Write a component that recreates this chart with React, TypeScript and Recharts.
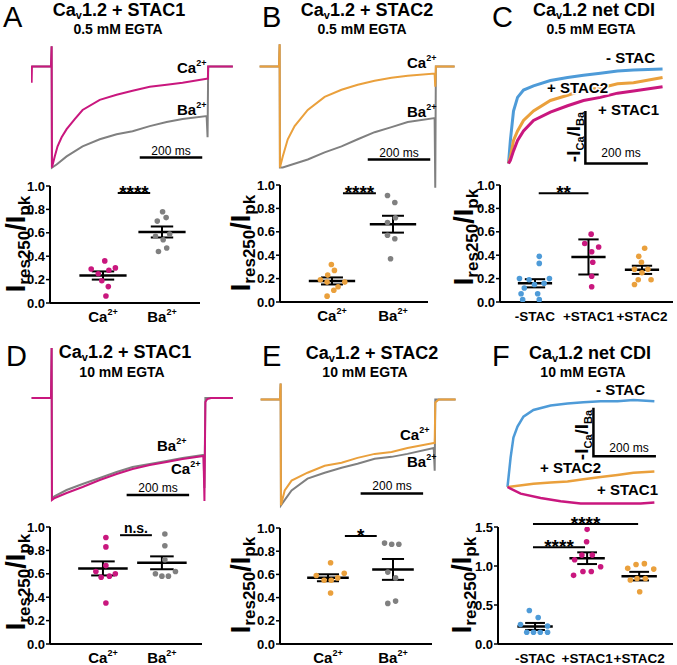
import React from "react";
import { LineChart, Line, XAxis, YAxis, ScatterChart, Scatter, ReferenceLine } from "recharts";

const FONT = "'Liberation Sans', Arial, Helvetica, sans-serif";
const MAGENTA = "#c9177e";
const ORANGE = "#eaa03c";
const GRAY = "#808080";
const BLUE = "#4e9bd8";
const SCALE_MS = 200;

type Pt = [number, number];

// ---- current traces: [time (ms), normalised current] ----
const A_BA: Pt[] = [[-64, 0], [-2, 0], [0, 0.2], [1, -1], [16, -0.97], [48, -0.89], [99, -0.79], [154, -0.72], [208, -0.67], [259, -0.64], [314, -0.59], [368, -0.55], [419, -0.52], [496, -0.49], [499, -0.7], [501, 0], [580, 0]];
const A_CA: Pt[] = [[-64, -0.16], [-63, 0], [-2, 0], [0, 0.2], [1, -1], [10, -0.89], [19, -0.79], [32, -0.7], [48, -0.62], [74, -0.52], [99, -0.43], [154, -0.33], [208, -0.28], [259, -0.24], [314, -0.2], [368, -0.18], [419, -0.16], [496, -0.12], [500, -0.12], [501, 0], [580, 0]];

const B_BA: Pt[] = [[-64, 0], [-2, 0], [0, 0.22], [1, -1], [10, -1], [90, -0.92], [144, -0.85], [198, -0.79], [250, -0.72], [304, -0.65], [358, -0.6], [410, -0.55], [496, -0.51], [498, -1.2], [500, 0], [560, 0]];
const B_CA: Pt[] = [[-64, 0], [-2, 0], [0, 0.22], [1, -1], [10, -0.89], [26, -0.72], [48, -0.59], [90, -0.43], [144, -0.3], [198, -0.23], [250, -0.18], [304, -0.14], [358, -0.11], [410, -0.09], [496, -0.07], [498, -0.2], [500, 0], [560, 0]];

const C_NOSTAC: Pt[] = [[0, -1], [6, -0.78], [16, -0.5], [29, -0.37], [48, -0.3], [80, -0.26], [134, -0.21], [189, -0.18], [240, -0.16], [294, -0.14], [349, -0.12], [400, -0.11], [493, -0.1]];
const C_STAC2: Pt[] = [[0, -1], [6, -0.94], [16, -0.78], [29, -0.69], [48, -0.59], [80, -0.5], [134, -0.4], [189, -0.35], [240, -0.3], [294, -0.28], [349, -0.24], [400, -0.23], [493, -0.18]];
const C_STAC1: Pt[] = [[0, -1], [6, -0.97], [16, -0.88], [29, -0.78], [48, -0.69], [80, -0.59], [134, -0.51], [189, -0.45], [240, -0.4], [294, -0.37], [349, -0.33], [400, -0.31], [493, -0.27]];

const D_BA: Pt[] = [[-64, 0], [-2, 0], [0, 0.5], [1, -1], [10, -0.98], [48, -0.92], [99, -0.86], [154, -0.8], [208, -0.74], [259, -0.69], [314, -0.66], [368, -0.63], [419, -0.6], [486, -0.57], [489, -0.9], [492, 0], [580, 0]];
const D_CA: Pt[] = [[-64, 0], [-2, 0], [0, 0.5], [1, -1.02], [10, -1], [48, -0.95], [99, -0.89], [154, -0.82], [208, -0.76], [259, -0.71], [314, -0.67], [368, -0.64], [419, -0.61], [486, -0.58], [489, -1.03], [492, -0.04], [498, -0.01], [510, 0], [580, 0]];

const E_BA: Pt[] = [[-64, 0], [-2, 0], [0, 0.16], [1, -1.07], [19, -0.99], [35, -0.92], [86, -0.8], [141, -0.74], [195, -0.69], [246, -0.65], [301, -0.6], [355, -0.58], [406, -0.55], [490, -0.49], [493, -0.72], [495, 0], [560, 0]];
const E_CA: Pt[] = [[-64, 0], [-2, 0], [0, 0.16], [1, -1.07], [13, -0.92], [35, -0.82], [86, -0.74], [141, -0.67], [195, -0.64], [246, -0.59], [301, -0.55], [355, -0.53], [406, -0.49], [490, -0.44], [493, -0.44], [495, -0.03], [506, 0], [560, 0]];

const F_NOSTAC: Pt[] = [[0, -1], [10, -0.73], [19, -0.55], [32, -0.45], [51, -0.36], [83, -0.3], [138, -0.26], [192, -0.24], [243, -0.23], [298, -0.22], [352, -0.22], [403, -0.21], [470, -0.22]];
const F_STAC2: Pt[] = [[0, -1], [83, -0.97], [138, -0.96], [192, -0.95], [243, -0.93], [298, -0.91], [352, -0.89], [403, -0.87], [470, -0.86]];
const F_STAC1: Pt[] = [[0, -1], [42, -1.06], [106, -1.1], [170, -1.13], [234, -1.15], [298, -1.15], [362, -1.15], [426, -1.15], [470, -1.14]];

// ---- Ires250/Ipk scatter values ----
const ION_LABELS = ["Ca^2+", "Ba^2+"];
const STAC_LABELS = ["-STAC", "+STAC1", "+STAC2"];

const A_CA_VALS = [0.36, 0.29, 0.3, 0.28, 0.25, 0.19, 0.14, 0.06];
const A_BA_VALS = [0.78, 0.7, 0.73, 0.57, 0.59, 0.54, 0.44, 0.47];
const A_JITTER = [[0.03, -0.2, 0.21, 0.1, -0.08, -0.02, 0.09, 0.05], [0.01, -0.08, 0.07, -0.11, 0.13, 0.02, -0.06, 0.08]];
const A_MEAN = [0.235, 0.607];
const A_SEM = [0.035, 0.047];

const B_CA_VALS = [0.32, 0.27, 0.23, 0.19, 0.17, 0.17, 0.13, 0.1, 0.05];
const B_BA_VALS = [0.91, 0.85, 0.72, 0.68, 0.57, 0.54, 0.37];
const B_JITTER = [[-0.01, 0.04, -0.07, -0.19, -0.08, 0.21, 0.1, 0.03, -0.08], [-0.09, 0.03, 0.04, -0.09, -0.09, 0.03, -0.04]];
const B_MEAN = [0.18, 0.665];
const B_SEM = [0.03, 0.072];

const C_NOSTAC_VALS = [0.39, 0.33, 0.2, 0.19, 0.2, 0.15, 0.16, 0.12, 0.07, 0.07, 0.02, 0.02];
const C_STAC1_VALS = [0.58, 0.5, 0.47, 0.43, 0.34, 0.22, 0.13];
const C_STAC2_VALS = [0.46, 0.39, 0.34, 0.28, 0.28, 0.25, 0.19, 0.15, 0.19];
const C_JITTER = [
  [0.08, 0.08, -0.29, -0.11, 0.27, -0.01, 0.17, -0.2, -0.26, 0.05, -0.23, 0.08],
  [0.05, -0.07, 0.19, 0.06, 0.08, 0.06, 0.06],
  [0.05, -0.06, -0.01, -0.14, 0.11, 0, -0.07, -0.14, 0.17],
];
const C_MEAN = [0.16, 0.385, 0.275];
const C_SEM = [0.035, 0.15, 0.035];

const D_CA_VALS = [0.91, 0.83, 0.67, 0.62, 0.6, 0.58, 0.57, 0.35];
const D_BA_VALS = [0.94, 0.84, 0.72, 0.6, 0.62, 0.58, 0.58];
const D_JITTER = [[0.05, 0.05, 0.05, -0.12, 0.21, 0.11, -0.03, 0.05], [0.05, 0.05, 0.05, -0.11, 0.23, 0, 0.11]];
const D_MEAN = [0.646, 0.694];
const D_SEM = [0.06, 0.055];

const E_CA_VALS = [0.7, 0.59, 0.61, 0.55, 0.55, 0.57, 0.44];
const E_BA_VALS = [0.87, 0.86, 0.86, 0.62, 0.57, 0.37, 0.35];
const E_JITTER = [[0.04, -0.18, 0.25, -0.06, 0.05, 0.15, 0.04], [-0.13, -0.02, 0.09, -0.08, 0.04, 0.04, -0.08]];
const E_MEAN = [0.571, 0.643];
const E_SEM = [0.03, 0.09];

const F_NOSTAC_VALS = [0.43, 0.34, 0.25, 0.23, 0.15, 0.15, 0.15, 0.15];
const F_STAC1_VALS = [1.47, 1.31, 1.14, 1.14, 1.08, 0.99, 0.93, 0.93, 0.88];
const F_STAC2_VALS = [1.02, 1.03, 0.97, 0.96, 0.84, 0.84, 0.82, 0.67];
const F_JITTER = [
  [-0.11, 0.06, -0.28, 0.24, -0.16, -0.03, 0.1, 0.24],
  [0, -0.01, -0.1, 0.1, -0.24, 0.26, -0.08, 0.08, -0.26],
  [-0.06, 0.1, -0.22, 0.28, -0.04, 0.12, -0.17, 0.01],
];
const F_MEAN = [0.225, 1.1, 0.87];
const F_SEM = [0.045, 0.075, 0.055];

type Sig = { x1: number; x2: number; y: number; text: string };
const A_SIG: Sig[] = [{ x1: 1.25, x2: 1.8, y: 0.94, text: "****" }];
const B_SIG: Sig[] = [{ x1: 1.18, x2: 1.72, y: 0.93, text: "****" }];
const C_SIG: Sig[] = [{ x1: 1.07, x2: 2.0, y: 0.93, text: "**" }];
const D_SIG: Sig[] = [{ x1: 1.29, x2: 1.83, y: 0.93, text: "n.s." }];
const E_SIG: Sig[] = [{ x1: 1.26, x2: 1.75, y: 0.93, text: "*" }];
const F_SIG: Sig[] = [
  { x1: 0.96, x2: 2.98, y: 1.54, text: "****" },
  { x1: 0.96, x2: 1.96, y: 1.24, text: "****" },
];

interface TraceProps {
  x0: number;
  y0: number;
  pxPerUnit: number;
  xDomain: [number, number];
  yDomain: [number, number];
  traces: { pts: Pt[]; color: string; width?: number }[];
  bar: { t: number; v: number; vTop?: number };
}

const MS_PER_PX = 3.2;

function TraceBox({ x0, y0, pxPerUnit, xDomain, yDomain, traces, bar }: TraceProps) {
  const left = x0 + xDomain[0] / MS_PER_PX;
  const width = (xDomain[1] - xDomain[0]) / MS_PER_PX;
  const top = y0 - yDomain[1] * pxPerUnit;
  const height = (yDomain[1] - yDomain[0]) * pxPerUnit;
  const barPts =
    bar.vTop !== undefined
      ? [{ t: bar.t, v: bar.vTop }, { t: bar.t, v: bar.v }, { t: bar.t + SCALE_MS, v: bar.v }]
      : [{ t: bar.t, v: bar.v }, { t: bar.t + SCALE_MS, v: bar.v }];
  return (
    <div style={{ position: "absolute", left, top }}>
      <LineChart width={width} height={height} margin={{ top: 0, right: 0, bottom: 0, left: 0 }}>
        <XAxis type="number" dataKey="t" domain={xDomain} hide allowDataOverflow />
        <YAxis type="number" domain={yDomain} hide allowDataOverflow />
        {traces.map((tr, i) => (
          <Line
            key={i}
            data={tr.pts.map(([t, v]) => ({ t, v }))}
            dataKey="v"
            stroke={tr.color}
            strokeWidth={tr.width ?? 2}
            dot={false}
            type="linear"
            isAnimationActive={false}
          />
        ))}
        <Line data={barPts} dataKey="v" stroke="#000" strokeWidth={2.5} dot={false} type="linear" isAnimationActive={false} />
      </LineChart>
    </div>
  );
}

interface DotProps {
  left: number;
  right: number;
  top: number;
  bottom: number;
  xDomain: [number, number];
  yMax: number;
  yTicks: number[];
  labels: string[];
  labelSize: number;
  groups: number[][];
  jitter: number[][];
  colors: string[];
  means: number[];
  sems: number[];
  meanHalf: number;
  capHalf: number;
  sig: Sig[];
}

function DotPlot(p: DotProps) {
  const YW = 45;
  const MT = 35;
  const XH = 25;
  const MR = 4;
  const w = YW + (p.right - p.left) + MR;
  const h = MT + (p.bottom - p.top) + XH;
  const xTick = (t: any) => {
    const lab = p.labels[Math.round(t.payload.value) - 1] ?? "";
    const [base, sup] = lab.split("^");
    return (
      <text x={t.x} y={t.y + 17} textAnchor="middle" fontFamily={FONT} fontWeight={700} fontSize={p.labelSize} fill="#000">
        {base}
        {sup && (
          <tspan fontSize={9} dy={-7}>
            {sup}
          </tspan>
        )}
      </text>
    );
  };
  const refs: React.ReactNode[] = [];
  p.means.forEach((m, g) => {
    const c = g + 1;
    const s = p.sems[g];
    const seg = (k: string, a: [number, number], b: [number, number], sw: number) =>
      refs.push(
        <ReferenceLine
          key={k}
          segment={[{ x: a[0], y: a[1] }, { x: b[0], y: b[1] }]}
          stroke="#000"
          strokeWidth={sw}
          ifOverflow="visible"
        />
      );
    seg(`m${g}`, [c - p.meanHalf, m], [c + p.meanHalf, m], 2.5);
    seg(`v${g}`, [c, m - s], [c, m + s], 2);
    seg(`t${g}`, [c - p.capHalf, m + s], [c + p.capHalf, m + s], 2);
    seg(`b${g}`, [c - p.capHalf, m - s], [c + p.capHalf, m - s], 2);
  });
  p.sig.forEach((s, i) => {
    const star = s.text.includes("*");
    refs.push(
      <ReferenceLine
        key={`s${i}`}
        segment={[{ x: s.x1, y: s.y }, { x: s.x2, y: s.y }]}
        stroke="#000"
        strokeWidth={2}
        ifOverflow="visible"
        label={(lp: any) => {
          const vb = lp.viewBox || {};
          return (
            <text
              x={(vb.x ?? 0) + (vb.width ?? 0) / 2}
              y={(vb.y ?? 0) + (star ? 6 : -2)}
              textAnchor="middle"
              fontFamily={FONT}
              fontWeight={700}
              fontSize={star ? 19 : 14}
              fill="#000"
            >
              {s.text}
            </text>
          );
        }}
      />
    );
  });
  return (
    <div style={{ position: "absolute", left: p.left - YW, top: p.top - MT }}>
      <ScatterChart width={w} height={h} margin={{ top: MT, right: MR, bottom: 0, left: 0 }}>
        <XAxis
          type="number"
          dataKey="x"
          domain={p.xDomain}
          ticks={p.labels.map((_, i) => i + 1)}
          interval={0}
          tick={xTick}
          tickLine={false}
          tickSize={0}
          height={XH}
          axisLine={{ stroke: "#000", strokeWidth: 2 }}
          allowDataOverflow
        />
        <YAxis
          type="number"
          dataKey="y"
          domain={[0, p.yMax]}
          ticks={p.yTicks}
          interval={0}
          width={YW}
          tickFormatter={(v: number) => v.toFixed(1)}
          tick={{ fill: "#000", fontSize: 13, fontWeight: 700, fontFamily: FONT }}
          tickLine={{ stroke: "#000", strokeWidth: 1.5 }}
          tickSize={4}
          tickMargin={1}
          axisLine={{ stroke: "#000", strokeWidth: 2 }}
          allowDataOverflow
        />
        {p.groups.map((vals, g) => (
          <Scatter
            key={g}
            data={vals.map((y, i) => ({ x: g + 1 + p.jitter[g][i], y }))}
            fill={p.colors[g]}
            isAnimationActive={false}
            shape={(s: any) => <circle cx={s.cx} cy={s.cy} r={2.8} fill={p.colors[g]} />}
          />
        ))}
        {refs}
      </ScatterChart>
    </div>
  );
}

function Title({ x, y, name, sub, sx, sy }: { x: number; y: number; name: string; sub: string; sx: number; sy: number }) {
  return (
    <>
      <text x={x} y={y} textAnchor="middle" fontSize={18} fontWeight={700}>
        Ca
        <tspan fontSize={11} dy={3}>
          v
        </tspan>
        <tspan dy={-3}>{name}</tspan>
      </text>
      <text x={sx} y={sy} textAnchor="middle" fontSize={14} fontWeight={700}>
        {sub}
      </text>
    </>
  );
}

function Ion({ x, y, ion }: { x: number; y: number; ion: string }) {
  return (
    <text x={x} y={y} fontSize={15} fontWeight={700}>
      {ion}
      <tspan fontSize={9} dy={-7}>
        2+
      </tspan>
    </text>
  );
}

function RatioLabel({ x, y }: { x: number; y: number }) {
  return (
    <text transform={`translate(${x},${y}) rotate(-90)`} textAnchor="middle" fontWeight={700}>
      <tspan fontSize={27}>I</tspan>
      <tspan fontSize={17} dy={5}>
        res250
      </tspan>
      <tspan fontSize={27} dy={-5}>
        /
      </tspan>
      <tspan fontSize={27}>I</tspan>
      <tspan fontSize={17} dy={5}>
        pk
      </tspan>
    </text>
  );
}

function CdiLabel({ x, y }: { x: number; y: number }) {
  return (
    <text transform={`translate(${x},${y}) rotate(-90)`} textAnchor="middle" fontWeight={700}>
      <tspan fontSize={19}>-I</tspan>
      <tspan fontSize={11} dy={4}>
        Ca
      </tspan>
      <tspan fontSize={19} dy={-4}>
        /I
      </tspan>
      <tspan fontSize={11} dy={4}>
        Ba
      </tspan>
    </text>
  );
}

const halo = { stroke: "#fff", strokeWidth: 3, paintOrder: "stroke" as const };

export default function App() {
  const ionDomain: [number, number] = [-66, 582];
  const traceY: [number, number] = [-1.25, 0.55];
  const t01 = [0, 0.2, 0.4, 0.6, 0.8, 1.0];
  return (
    <div style={{ position: "absolute", left: 0, top: 0, width: 677, height: 665, background: "#fff", fontFamily: FONT }}>
      <TraceBox x0={52} y0={67} pxPerUnit={101} xDomain={ionDomain} yDomain={traceY}
        traces={[{ pts: A_BA, color: GRAY }, { pts: A_CA, color: MAGENTA }]} bar={{ t: 282, v: -0.9 }} />
      <TraceBox x0={280} y0={67} pxPerUnit={101} xDomain={[-66, 562]} yDomain={traceY}
        traces={[{ pts: B_BA, color: GRAY }, { pts: B_CA, color: ORANGE }]} bar={{ t: 282, v: -0.92 }} />
      <TraceBox x0={508} y0={58} pxPerUnit={105} xDomain={[-8, 500]} yDomain={[-1.1, 0.1]}
        traces={[{ pts: C_NOSTAC, color: BLUE, width: 3 }, { pts: C_STAC2, color: ORANGE, width: 3 }, { pts: C_STAC1, color: MAGENTA, width: 3 }]}
        bar={{ t: 246, v: -1, vTop: -0.5 }} />
      <TraceBox x0={52} y0={398} pxPerUnit={100} xDomain={ionDomain} yDomain={traceY}
        traces={[{ pts: D_BA, color: GRAY }, { pts: D_CA, color: MAGENTA }]} bar={{ t: 240, v: -0.97 }} />
      <TraceBox x0={281} y0={399} pxPerUnit={99} xDomain={[-66, 562]} yDomain={traceY}
        traces={[{ pts: E_BA, color: GRAY }, { pts: E_CA, color: ORANGE }]} bar={{ t: 256, v: -0.95 }} />
      <TraceBox x0={507} y0={377} pxPerUnit={110} xDomain={[-8, 480]} yDomain={[-1.25, 0.1]}
        traces={[{ pts: F_NOSTAC, color: BLUE, width: 2.5 }, { pts: F_STAC2, color: ORANGE, width: 2.5 }, { pts: F_STAC1, color: MAGENTA, width: 2.5 }]}
        bar={{ t: 275, v: -0.72, vTop: -0.28 }} />

      <DotPlot left={50} right={200} top={186} bottom={303} xDomain={[0.102, 2.644]} yMax={1} yTicks={t01}
        labels={ION_LABELS} labelSize={15} groups={[A_CA_VALS, A_BA_VALS]} jitter={A_JITTER} colors={[MAGENTA, GRAY]}
        means={A_MEAN} sems={A_SEM} meanHalf={0.4} capHalf={0.19} sig={A_SIG} />
      <DotPlot left={280} right={428} top={185} bottom={302} xDomain={[0.148, 2.574]} yMax={1} yTicks={t01}
        labels={ION_LABELS} labelSize={15} groups={[B_CA_VALS, B_BA_VALS]} jitter={B_JITTER} colors={[ORANGE, GRAY]}
        means={B_MEAN} sems={B_SEM} meanHalf={0.38} capHalf={0.18} sig={B_SIG} />
      <DotPlot left={500} right={673} top={185} bottom={302} xDomain={[0.346, 3.58]} yMax={1} yTicks={t01}
        labels={STAC_LABELS} labelSize={13.5} groups={[C_NOSTAC_VALS, C_STAC1_VALS, C_STAC2_VALS]} jitter={C_JITTER} colors={[BLUE, MAGENTA, ORANGE]}
        means={C_MEAN} sems={C_SEM} meanHalf={0.32} capHalf={0.19} sig={C_SIG} />
      <DotPlot left={50} right={202} top={527} bottom={644} xDomain={[0.102, 2.68]} yMax={1} yTicks={t01}
        labels={ION_LABELS} labelSize={15} groups={[D_CA_VALS, D_BA_VALS]} jitter={D_JITTER} colors={[MAGENTA, GRAY]}
        means={D_MEAN} sems={D_SEM} meanHalf={0.42} capHalf={0.2} sig={D_SIG} />
      <DotPlot left={280} right={432} top={528} bottom={644} xDomain={[0.262, 2.6]} yMax={1} yTicks={t01}
        labels={ION_LABELS} labelSize={15} groups={[E_CA_VALS, E_BA_VALS]} jitter={E_JITTER} colors={[ORANGE, GRAY]}
        means={E_MEAN} sems={E_SEM} meanHalf={0.32} capHalf={0.17} sig={E_SIG} />
      <DotPlot left={498} right={673} top={527} bottom={644} xDomain={[0.288, 3.65]} yMax={1.5} yTicks={[0, 0.5, 1.0, 1.5]}
        labels={STAC_LABELS} labelSize={13.5} groups={[F_NOSTAC_VALS, F_STAC1_VALS, F_STAC2_VALS]} jitter={F_JITTER} colors={[BLUE, MAGENTA, ORANGE]}
        means={F_MEAN} sems={F_SEM} meanHalf={0.34} capHalf={0.19} sig={F_SIG} />

      <svg width={677} height={665} style={{ position: "absolute", left: 0, top: 0, pointerEvents: "none" }} fontFamily={FONT} fill="#000">
        <text x={3} y={27} fontSize={29}>A</text>
        <text x={262} y={27} fontSize={29}>B</text>
        <text x={492} y={27} fontSize={29}>C</text>
        <text x={6} y={366} fontSize={29}>D</text>
        <text x={262} y={366} fontSize={29}>E</text>
        <text x={492} y={366} fontSize={29}>F</text>

        <Title x={119} y={16} name="1.2 + STAC1" sub="0.5 mM EGTA" sx={118} sy={34} />
        <Title x={367} y={16} name="1.2 + STAC2" sub="0.5 mM EGTA" sx={362} sy={34} />
        <Title x={594} y={16} name="1.2 net CDI" sub="0.5 mM EGTA" sx={591} sy={34} />
        <Title x={125} y={358} name="1.2 + STAC1" sub="10 mM EGTA" sx={122} sy={377} />
        <Title x={372} y={359} name="1.2 + STAC2" sub="10 mM EGTA" sx={365} sy={377} />
        <Title x={590} y={359} name="1.2 net CDI" sub="10 mM EGTA" sx={583} sy={377} />

        <Ion x={177} y={73} ion="Ca" />
        <Ion x={177} y={115} ion="Ba" />
        <Ion x={407} y={68} ion="Ca" />
        <Ion x={407} y={117} ion="Ba" />
        <Ion x={157} y={451} ion="Ba" />
        <Ion x={171} y={474} ion="Ca" />
        <Ion x={400} y={440} ion="Ca" />
        <Ion x={407} y={467} ion="Ba" />

        <g fontSize={15} fontWeight={700}>
          <text x={655} y={63} textAnchor="end">- STAC</text>
          <text x={547} y={93} {...halo}>+ STAC2</text>
          <text x={598} y={115} {...halo}>+ STAC1</text>
          <text x={645} y={395} textAnchor="end">- STAC</text>
          <text x={540} y={473} {...halo}>+ STAC2</text>
          <text x={597} y={495}>+ STAC1</text>
        </g>

        <g fontSize={12} textAnchor="middle">
          <text x={171} y={155}>200 ms</text>
          <text x={399} y={157}>200 ms</text>
          <text x={621} y={157}>200 ms</text>
          <text x={158} y={492}>200 ms</text>
          <text x={392} y={490}>200 ms</text>
          <text x={629} y={452}>200 ms</text>
        </g>

        <CdiLabel x={580} y={137} />
        <CdiLabel x={588} y={435} />

        <RatioLabel x={25} y={244} />
        <RatioLabel x={250} y={243} />
        <RatioLabel x={473} y={237} />
        <RatioLabel x={25} y={582} />
        <RatioLabel x={250} y={585} />
        <RatioLabel x={471} y={585} />
      </svg>
    </div>
  );
}
